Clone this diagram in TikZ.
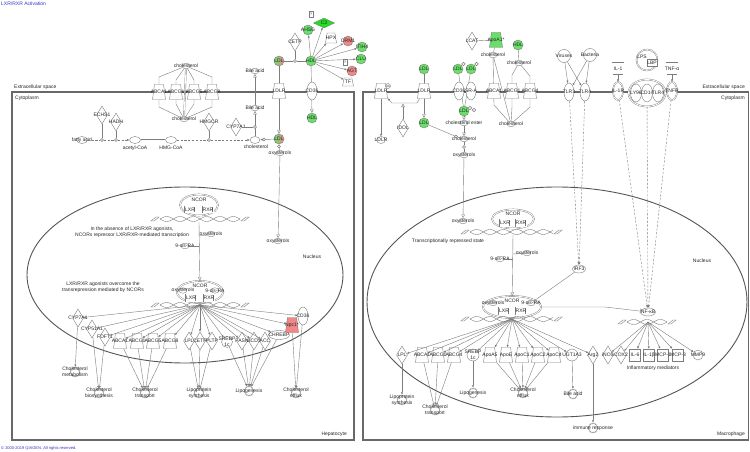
\documentclass[tikz,border=0pt]{standalone}
\usepackage{fontspec}
\setmainfont{Liberation Sans}
\usetikzlibrary{shapes.geometric,arrows.meta}
\definecolor{ln}{RGB}{125,125,125}
\definecolor{memb}{RGB}{105,105,105}
\definecolor{nuc}{RGB}{85,85,85}
\definecolor{gfill}{RGB}{105,222,105}
\definecolor{gbright}{RGB}{35,220,35}
\definecolor{rfill}{RGB}{242,135,135}
\definecolor{ttl}{RGB}{50,50,200}
\newcommand\fs{\fontsize{5}{5.6}\selectfont}
\newcommand\dnahelix[3]{%
 \draw[con] plot[domain=#1:#2, samples=60, smooth] (\x,{#3+2.5*sin((\x-#1)*13.5)});
 \draw[con] plot[domain=#1:#2, samples=60, smooth] (\x,{#3-2.5*sin((\x-#1)*13.5)});
 \draw[con] (#1-9,#3+2) -- (#1-4,#3-2) -- (#1-1,#3-2) -- (#1-6,#3+2) -- cycle;
 \draw[con] (#2+1,#3+2) -- (#2+6,#3-2) -- (#2+9,#3-2) -- (#2+4,#3+2) -- cycle;
}
\tikzset{
 lbl/.style={font=\fs, inner sep=0, text=black!85, align=center},
 base/.style={draw=ln, line width=.4pt, fill=white, inner sep=0},
 chem/.style={base, ellipse, minimum width=8, minimum height=5.5, label={[lbl]center:#1}},
 enz/.style={base, diamond, minimum width=11, minimum height=18, label={[lbl]center:#1}},
 trans/.style={base, inner sep=1pt, trapezium, trapezium stretches=true, trapezium left angle=78, trapezium right angle=78, minimum width=13, minimum height=15, label={[lbl]center:#1}},
 recp/.style={base, ellipse, minimum width=10, minimum height=18, label={[lbl]center:#1}},
 oth/.style={base, circle, minimum size=10, label={[lbl]center:#1}},
 cyt/.style={base, rectangle, minimum width=11, minimum height=12, label={[lbl]center:#1}},
 func/.style={base, inner sep=1pt, star, star points=14, star point ratio=1.25, minimum size=10, label={[lbl]center:#1}},
 bx/.style={base, rectangle, minimum width=10, minimum height=6.5, double=white, double distance=.6pt, label={[lbl]center:#1}},
 cplx/.style={draw=ln, line width=.4pt, double=white, double distance=.8pt, ellipse, fill=white, inner sep=0},
 dot/.style={base, circle, minimum size=3},
 con/.style={draw=ln, line width=.4pt},
 arr/.style={con, -{Triangle[open, length=3.5pt, width=3.5pt]}},
 farr/.style={con, -{Latex[length=2.4pt, width=2.2pt]}},
 dsh/.style={con, dash pattern=on 2.2pt off 1.6pt},
 inh/.style={con, -{Bar[width=5pt]}},
}
\begin{document}
\begin{tikzpicture}[x=1pt,y=-1pt]
\useasboundingbox[fill=white] (0,0) rectangle (750,452);
% titles
\node[lbl, anchor=west, text=ttl] (title) at (1,4) {LXR/RXR Activation};
\node[lbl, anchor=west, text=ttl, font=\fontsize{4}{4.5}\selectfont] (copy) at (1,448) {© 2000-2019 QIAGEN. All rights reserved.};
% cells
\draw[memb, line width=1.3pt] (12,92) rectangle (354,440);
\draw[memb, line width=1.3pt] (363,92) rectangle (748.5,440);
\node[lbl, anchor=west] (ecL) at (14,87) {Extracellular space};
\node[lbl, anchor=west] (cyL) at (15,98) {Cytoplasm};
\node[lbl, anchor=east] (ecR) at (745,87) {Extracellular space};
\node[lbl, anchor=east] (cyR) at (745,98) {Cytoplasm};
\node[lbl, anchor=east] (hep) at (347,434) {Hepatocyte};
\node[lbl, anchor=east] (mac) at (745,434) {Macrophage};
% nuclei
\draw[nuc, line width=.9pt] (185,275) ellipse [x radius=158pt, y radius=88pt];
\draw[nuc, line width=.9pt] (557,302) ellipse [x radius=190pt, y radius=115pt];
\node[lbl] (nucL) at (312,257) {Nucleus};
\node[lbl] (nucR) at (702,261) {Nucleus};

% ===== left cytoplasm =====
\node[chem=cholesterol] (chT) at (186,66) {};
\node[chem=cholesterol] (chB) at (184,119) {};
\draw[con] (chT) -- (159,77) -- (159,107) -- (chB);
\draw[con] (chT) -- (212,77) -- (212,107) -- (chB);
\draw[con] (chT) -- (176,80) -- (176,104) -- (chB);
\draw[con] (chT) -- (194,80) -- (194,104) -- (chB);
\draw[con, double=white, double distance=.8pt] (chT) -- (chB);
\node[trans=ABCA1] (abca1L) at (159,92) {};
\node[trans=ABCG1] (abcg1L) at (176,92) {};
\node[trans=ABCG5] (abcg5L) at (194,92) {};
\node[trans=ABCG8] (abcg8L) at (212,92) {};

\node[enz=ECHS1] (echs1) at (102,115) {};
\node[enz=HADH] (hadh) at (116,122) {};
\node[enz=HMGCR] (hmgcr) at (209,122) {};
\node[enz=CYP7A1] (cyp7c) at (236,127) {};
\node[chem={fatty acid}, minimum width=11, minimum height=7] (fa) at (82,140) {};
\node[chem={}, minimum width=11, minimum height=7] (acoa) at (135,140) {};
\node[lbl] (acoaL) at (135,148) {acetyl-CoA};
\node[chem={}, minimum width=11, minimum height=7] (hmg) at (171,140) {};
\node[lbl] (hmgL) at (171,148) {HMG-CoA};
\node[chem={}, minimum width=10, minimum height=7] (cholC) at (255,140) {};
\node[lbl] (cholCL) at (256,147) {cholesterol};
\node[dot] (d1) at (102,140) {};
\node[dot] (d2) at (116,140) {};
\node[dot] (d3) at (209,140) {};
\draw[dsh] (fa) -- (d1);
\draw[dsh] (d1) -- (d2);
\draw[dsh, -{Latex[length=2.4pt, width=2.2pt]}] (d2) -- (acoa);
\draw[con, double=white, double distance=.8pt] (acoa) -- (hmg);
\draw[dsh] (hmg) -- (d3);
\draw[dsh, -{Latex[length=2.4pt, width=2.2pt]}] (d3) -- (cholC);
\draw[con] (echs1) -- (d1);
\draw[con] (hadh) -- (d2);
\draw[con] (hmgcr) -- (d3);

\node[chem={Bile acid}] (ba1) at (255,108) {};
\node[chem={Bile acid}] (ba2) at (255,71) {};
\draw[arr] (cholC) -- (ba1);
\draw[arr] (ba1) -- (ba2);
\node[dot] (d4) at (255,127) {};
\draw[con] (cyp7c) -- (d4);

\node[oth=LDL, left color=gfill, right color=rfill] (ldlT) at (279,61) {};
\node[oth=HDL, fill=gfill] (hdlT) at (311,61) {};
\node[dot] (d5) at (295,61) {};
\draw[con] (ldlT) -- (d5) -- (hdlT);
\node[enz=CETP] (cetp) at (295,42) {};
\draw[con] (cetp) -- (d5);
\node[oth=AHSG, fill=gfill] (ahsg) at (308,30) {};
\node[base, diamond, minimum width=21, minimum height=10, fill=gbright, label={[lbl]center:C3}] (c3) at (324,23) {};
\node[trans=HPX, minimum width=11, minimum height=10] (hpx) at (331,38) {};
\node[oth=ORM1, fill=rfill] (orm1) at (348,41) {};
\node[oth=ITIH4, fill=gfill] (itih4) at (362,47) {};
\node[oth=CLU, fill=gfill] (clu) at (361,59) {};
\node[oth=AGT, fill=rfill] (agt) at (352,71) {};
\node[trans=TF, minimum width=11, minimum height=8] (tf) at (348,82) {};
\node[base, minimum width=4, minimum height=6, label={[lbl,font=\fontsize{3.5}{4}\selectfont]center:?}] (q1) at (311,14) {};
\node[base, minimum width=4, minimum height=6, label={[lbl,font=\fontsize{3.5}{4}\selectfont]center:?}] (q2) at (345,62) {};
\foreach \t in {ahsg,c3,hpx,orm1,itih4,clu,agt,tf} \draw[farr] (hdlT) -- (\t);

\node[oth=LDL, left color=gfill, right color=rfill] (ldlC) at (279,139) {};
\draw[arr] (ldlT) -- (ldlC);
\node[trans=LDLR] (ldlrL) at (279,91) {};
\node[oth=HDL, fill=gfill] (hdlC) at (312,118) {};
\draw[arr] (hdlT) -- (hdlC);
\node[recp=CD36] (cd36c) at (312,91) {};
\node[dot] (d6) at (264,139.5) {};
\draw[con] (ldlC) -- (d6);
\draw[farr] (d6) -- (cholC);
\node[dot] (d7) at (279,146.5) {};
\node[chem=oxysterols] (oxyC) at (280,153) {};
\draw[con] (ldlC) -- (d7) -- (oxyC);
\node[chem=oxysterols] (oxyN) at (278,241) {};
\draw[arr] (oxyC) -- (oxyN);

% ===== left nucleus =====
\node[cplx, minimum width=38, minimum height=21] (ncT) at (199,205) {};
\node[lbl] (ncTl) at (199,199.5) {NCOR};
\node[bx=LXR] (lxrT) at (190,209.5) {};
\node[bx=RXR] (rxrT) at (208,209.5) {};
\dnahelix{160}{240}{219}
\node[lbl] (t1) at (132,232.5) {In the absence of LXR/RXR agonists,\\NCORs repressor LXR/RXR-mediated transcription};
\node[cplx, minimum width=46, minimum height=22] (ncB) at (200,292) {};
\node[lbl] (ncBl) at (200,286) {NCOR};
\node[chem=oxysterols] (oxB) at (183,290.5) {};
\node[chem=9-cis-RA] (raB) at (215,290.5) {};
\node[bx=LXR] (lxrB) at (191,298) {};
\node[bx=RXR] (rxrB) at (209,298) {};
\coordinate (j0) at (199,222);
\draw[arr] (j0) -- (ncB);
\node[chem=oxysterols] (oxS) at (211,234) {};
\node[chem=9-cis-RA] (raS) at (185,246) {};
\coordinate (j1) at (199,236);
\coordinate (j2) at (199,246);
\draw[con] (oxS) -- (j1);
\draw[con] (raS) -- (j2);
\node[lbl] (t3) at (103,287.5) {LXR/RXR agonists overcome the\\transrepression mediated by NCORs};
\dnahelix{160}{240}{305}
\coordinate (srcL) at (200,305);

\node[enz=CYP7A1] (tCyp7) at (78,318) {};
\node[enz=CYP51A1] (tCyp51) at (92,329) {};
\node[enz=FDFT1] (tFdft) at (105,337) {};
\node[trans=ABCA1] (tA1) at (120,341) {};
\node[trans=ABCG1] (tG1) at (137,341) {};
\node[trans=ABCG5] (tG5) at (153,341) {};
\node[trans=ABCG8] (tG8) at (170,341) {};
\node[enz=LPL] (tLpl) at (189,341) {};
\node[enz=CETP] (tCetp) at (200,341) {};
\node[enz=PLTP] (tPltp) at (212,341) {};
\node[oth={SREBP\\1c}, minimum size=11] (tSre) at (227,342) {};
\node[enz=FASN] (tFasn) at (242,341) {};
\node[enz=SCD1] (tScd) at (254,341) {};
\node[enz=ACC] (tAcc) at (265,341) {};
\node[base, ellipse, minimum width=21, minimum height=9, label={[lbl]center:CHREBP}] (tChr) at (279,335) {};
\node[trans=Npc1*, fill=rfill] (tRed) at (292,325) {};
\node[recp=CD36] (tCd36) at (303,316) {};
\foreach \t in {tCyp7,tCyp51,tFdft,tA1,tG1,tG5,tG8,tLpl,tCetp,tPltp,tSre,tFasn,tScd,tAcc,tChr,tRed,tCd36} \draw[farr] (srcL) -- (\t);

\node[func={Cholesterol\\metabolism}] (fMet) at (75,372) {};
\node[func={Cholesterol\\biosynthesis}] (fBio) at (99,393) {};
\node[func={Cholesterol\\transport}] (fTrL) at (145,393) {};
\node[func={Lipoprotein\\synthesis}] (fLpL) at (199,393) {};
\node[func=Lipogenesis] (fLgL) at (249,391) {};
\node[func={Cholesterol\\efflux}] (fEfL) at (296,393) {};
\draw[farr] (tCyp7) -- (fMet);
\foreach \t in {tCyp51,tFdft} \draw[farr] (\t) -- (fBio);
\foreach \t in {tA1,tG1,tG5,tG8} \draw[farr] (\t) -- (fTrL);
\foreach \t in {tLpl,tCetp,tPltp} \draw[farr] (\t) -- (fLpL);
\foreach \t in {tSre,tFasn,tScd,tAcc,tChr} \draw[farr] (\t) -- (fLgL);
\foreach \t in {tRed,tCd36} \draw[farr] (\t) -- (fEfL);

% ===== right cytoplasm =====
\node[enz=LCAT] (lcat) at (472,41) {};
\node[trans=ApoA1*, fill=gfill] (apoa1) at (496,40) {};
\draw[farr] (lcat) -- (apoa1);
\node[chem=cholesterol] (chR1) at (493,55) {};
\draw[con] (apoa1) -- (chR1);
\node[oth=HDL, fill=gfill] (hdlR) at (518,45) {};
\node[chem=cholesterol] (chR2) at (519,63) {};
\draw[con] (hdlR) -- (chR2);
\node[chem=cholesterol] (chRB) at (511,124) {};
\draw[con] (chR1) -- (494,105) -- (chRB);
\draw[con] (chR1) -- (chRB);
\draw[con] (chR2) -- (512,75) -- (512,107) -- (chRB);
\draw[con] (chR2) -- (530,76) -- (530,107) -- (chRB);
\node[trans=ABCA1] (abca1R) at (494,91) {};
\node[trans=ABCG1] (abcg1R) at (512,91) {};
\node[trans=ABCG4] (abcg4R) at (530,91) {};

\node[oth=LDL, fill=gfill] (ldlR1) at (424,69) {};
\node[oth=LDL, fill=gfill] (ldlR2) at (424,123) {};
\draw[arr] (ldlR1) -- (ldlR2);
\node[trans=LDLR] (ldlrR) at (424,91) {};
\node[trans=LDLR] (ldlrR0) at (381,91) {};
\node[base, circle, minimum size=5, label={[lbl,font=\fontsize{3}{3}\selectfont]center:Ub}] (ub) at (388,86) {};
\node[chem=LDLR, minimum width=9, minimum height=7] (ldlrOut) at (381,140) {};
\draw[farr] (ldlrR0) -- (ldlrOut);
\coordinate (k1) at (417,103);
\coordinate (k2) at (392,103);
\draw[farr] (ldlrR) -- (k1) -- (k2) -- (ldlrR0);
\node[enz=IDOL] (idol) at (403,128) {};
\coordinate (k3) at (403,103.5);
\draw[arr] (idol) -- (k3);

\node[oth=LDL, fill=gfill] (oxl1) at (458,69) {};
\node[oth=LDL, fill=gfill] (oxl2) at (471,69) {};
\node[base, circle, minimum size=3.5] (ox1) at (463.5,64) {};
\node[base, circle, minimum size=3.5] (ox2) at (476.5,64) {};
\node[oth=LDL, fill=gfill] (ldlR3) at (464,111) {};
\node[base, circle, minimum size=3.5] (ox3) at (470,108) {};
\node[base, circle, minimum size=3.5] (ox4) at (474,110) {};
\draw[con] (oxl1) -- (ldlR3);
\draw[con] (oxl2) -- (ldlR3);
\node[recp=CD36] (cd36R) at (459,91) {};
\node[recp=SR-A] (sraR) at (471,91) {};
\node[chem={cholesterol ester}] (chE) at (464,123) {};
\draw[arr] (ldlR3) -- (chE);
\node[chem=cholesterol] (chR3) at (464,139) {};
\draw[arr] (chE) -- (chR3);
\node[dot] (d8) at (456,136.5) {};
\draw[con] (ldlR2) -- (d8) -- (chR3);
\node[dot] (d9) at (464,147) {};
\node[chem=oxysterols] (oxyR) at (464,155) {};
\draw[con] (chR3) -- (d9) -- (oxyR);
\node[chem=oxysterols] (oxyRN) at (463,221) {};
\draw[arr] (oxyR) -- (oxyRN);

% receptors
\node[oth=Viruses, minimum size=13] (vir) at (564,56) {};
\node[oth=Bacteria, minimum size=13] (bac) at (590,55) {};
\node[recp=TLR3] (tlr3) at (569,92) {};
\node[recp=TLR4] (tlr4) at (585,92) {};
\foreach \s in {vir,bac} \foreach \t in {tlr3,tlr4} \draw[farr] (\s) -- (\t);
\node[cyt=IL-1, double=white, double distance=.6pt] (il1) at (618,69) {};
\node[recp=IL-1R, double=white, double distance=.6pt] (il1r) at (618,91) {};
\draw[farr] (il1) -- (il1r);
\node[base, circle, minimum size=21, double=white, double distance=.6pt] (lps) at (647,60) {};
\node[lbl] (lpsL) at (642,57) {LPS};
\node[base, rectangle, minimum width=10, minimum height=7, label={[lbl]center:LBP}] (lbp) at (652,63) {};
\node[cplx, minimum width=37, minimum height=27] (cx) at (647,93) {};
\node[base, ellipse, minimum width=11, minimum height=18, label={[lbl]center:LY96}] (ly96) at (636,93) {};
\node[base, ellipse, minimum width=11, minimum height=18, label={[lbl]center:CD14}] (cd14) at (647,93) {};
\node[base, ellipse, minimum width=11, minimum height=18, label={[lbl]center:TLR4}] (tlr4b) at (658,93) {};
\node[cyt=TNF-α, double=white, double distance=.6pt] (tnf) at (672,69) {};
\node[recp=TNFR, double=white, double distance=.6pt] (tnfr) at (672,91) {};
\draw[farr] (tnf) -- (tnfr);

% ===== right nucleus =====
\node[chem=IRF3, minimum width=13, minimum height=8] (irf3) at (579,269) {};
\node[chem=NF-κB, minimum width=15, minimum height=8] (nfkb) at (648,312) {};
\foreach \s in {tlr3,tlr4} \draw[dsh, -{Latex[length=2.6pt, width=2.4pt]}] (\s) -- (irf3);
\foreach \s in {il1r,cx,tnfr} \draw[dsh, -{Latex[length=2.6pt, width=2.4pt]}] (\s) -- (nfkb);

\node[cplx, minimum width=42, minimum height=19] (ncRT) at (513,219) {};
\node[lbl] (ncRTl) at (513,213.5) {NCOR};
\node[bx=LXR] (lxrRT) at (505,223) {};
\node[bx=RXR] (rxrRT) at (521,223) {};
\dnahelix{470}{553}{232}
\node[lbl] (t4) at (448,241) {Transcriptionally repressed state};
\node[cplx, minimum width=58, minimum height=22] (ncRB) at (512,307) {};
\node[lbl] (ncRBl) at (512,301) {NCOR};
\node[chem=oxysterols] (oxRB) at (493,303) {};
\node[chem=9-cis-RA] (raRB) at (531,303) {};
\node[bx=LXR] (lxrRB) at (504,311) {};
\node[bx=RXR] (rxrRB) at (521,311) {};
\coordinate (j3) at (513,235);
\draw[arr] (j3) -- (ncRB);
\node[chem=oxysterols] (oxRS) at (527,253) {};
\node[chem=9-cis-RA] (raRS) at (500,259) {};
\coordinate (j4) at (513,254);
\coordinate (j5) at (513,259);
\draw[con] (oxRS) -- (j4);
\draw[con] (raRS) -- (j5);
\draw[con] (irf3) -- (raRB);
\coordinate (j6) at (605,307);
\draw[inh] (ncRB) -- (j6) -- (nfkb);
\dnahelix{470}{553}{319}
\dnahelix{627}{667}{322}
\coordinate (srcR) at (512,319);
\coordinate (srcN) at (648,322);

\node[enz=LPL] (rLpl) at (402,355) {};
\node[trans=ABCA1] (rA1) at (422,355) {};
\node[trans=ABCG1] (rG1) at (438,355) {};
\node[trans=ABCG4] (rG4) at (454,355) {};
\node[oth={SREBP\\1c}, minimum size=12] (rSre) at (473,355) {};
\node[trans=ApoA5] (rA5) at (490,355) {};
\node[trans=ApoE] (rE) at (506,355) {};
\node[trans=ApoC1] (rC1) at (522,355) {};
\node[trans=ApoC2] (rC2) at (538,355) {};
\node[trans=ApoC4] (rC4) at (554,355) {};
\node[oth=UGT1A3, minimum size=12] (rUgt) at (572,355) {};
\node[enz=Arg2] (rArg) at (593,355) {};
\node[enz=iNOS] (rInos) at (608,355) {};
\node[enz=COX2] (rCox) at (621,355) {};
\node[cyt=IL-6] (rIl6) at (635,355) {};
\node[cyt=IL-1β] (rIl1b) at (649,355) {};
\node[cyt=MCP-1] (rMcp1) at (663,355) {};
\node[cyt=MCP-3] (rMcp3) at (678,355) {};
\node[oth=MMP9] (rMmp9) at (698,355) {};
\node[lbl] (infl) at (653,368) {Inflammatory mediators};
\foreach \t in {rLpl,rA1,rG1,rG4,rSre,rA5,rE,rC1,rC2,rC4,rUgt,rArg} \draw[farr] (srcR) -- (\t);
\foreach \t in {rInos,rCox,rIl6,rIl1b,rMcp1,rMcp3,rMmp9} \draw[farr] (srcN) -- (\t);

\node[func={Lipoprotein\\synthesis}] (fLpR) at (402,400) {};
\node[func={Cholesterol\\transport}] (fTrR) at (435,410) {};
\node[func=Lipogenesis] (fLgR) at (473,393) {};
\node[func={Cholesterol\\efflux}] (fEfR) at (523,393) {};
\node[func={Bile acid}] (fBa) at (573,394) {};
\node[func={immune response}] (fImm) at (593,428) {};
\draw[farr] (rLpl) -- (fLpR);
\foreach \t in {rA1,rG1,rG4} \draw[farr] (\t) -- (fTrR);
\draw[farr] (rSre) -- (fLgR);
\foreach \t in {rA5,rE,rC1,rC2,rC4} \draw[farr] (\t) -- (fEfR);
\draw[farr] (rUgt) -- (fBa);
\draw[farr] (rArg) -- (fImm);
\end{tikzpicture}
\end{document}
